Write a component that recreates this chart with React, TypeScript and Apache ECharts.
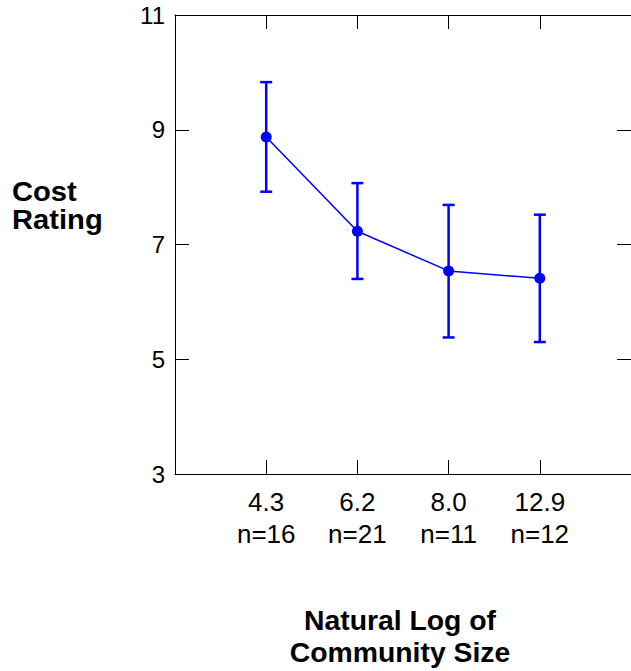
import React, { useEffect, useRef } from "react";
import * as echarts from "echarts";

const xPositions = [1, 2, 3, 4];
const xValues = ["4.3", "6.2", "8.0", "12.9"];
const sampleSizes = ["n=16", "n=21", "n=11", "n=12"];
const means = [8.875, 7.23, 6.54, 6.41];
const upper = [9.83, 8.07, 7.69, 7.52];
const lower = [7.92, 6.4, 5.38, 5.3];
const yTicks = [3, 5, 7, 9, 11];

const FONT = "'Liberation Sans', Arial, sans-serif";
const BLUE = "#0000ff";

export default function App() {
  const ref = useRef<HTMLDivElement>(null);
  useEffect(() => {
    if (!ref.current) return;
    const chart = echarts.init(ref.current, undefined, { renderer: "svg" });
    const lineData = xPositions.map((x, i) => [x, means[i]]);
    const errData = xPositions.map((x, i) => [x, lower[i], upper[i]]);
    const labelFor = (v: number) => {
      const i = xPositions.indexOf(Math.round(v));
      return i >= 0 ? `${xValues[i]}\n${sampleSizes[i]}` : "";
    };
    chart.setOption({
      animation: false,
      backgroundColor: "#fff",
      textStyle: { fontFamily: FONT },
      grid: { left: 175, top: 15, width: 460, height: 459, containLabel: false },
      xAxis: [
        {
          type: "value",
          min: 0,
          max: 5,
          interval: 1,
          position: "bottom",
          splitLine: { show: false },
          axisLine: { show: true, onZero: false, lineStyle: { color: "#000", width: 1 } },
          axisTick: { show: true, inside: true, length: 14, customValues: xPositions, lineStyle: { color: "#000" } },
          axisLabel: {
            customValues: xPositions,
            formatter: (v: number) => labelFor(v),
            color: "#000",
            fontSize: 26,
            fontFamily: FONT,
            lineHeight: 32,
            margin: 12,
          },
        },
        {
          type: "value",
          min: 0,
          max: 5,
          interval: 1,
          position: "top",
          splitLine: { show: false },
          axisLine: { show: true, onZero: false, lineStyle: { color: "#000", width: 1 } },
          axisTick: { show: true, inside: true, length: 14, customValues: xPositions, lineStyle: { color: "#000" } },
          axisLabel: { show: false },
        },
      ],
      yAxis: [
        {
          type: "value",
          min: 3,
          max: 11,
          interval: 2,
          position: "left",
          splitLine: { show: false },
          axisLine: { show: true, onZero: false, lineStyle: { color: "#000", width: 1 } },
          axisTick: { show: true, inside: true, length: 14, customValues: yTicks, lineStyle: { color: "#000" } },
          axisLabel: { color: "#000", fontSize: 24, fontFamily: FONT, margin: 10 },
        },
        {
          type: "value",
          min: 3,
          max: 11,
          interval: 2,
          position: "right",
          splitLine: { show: false },
          axisLine: { show: true, onZero: false, lineStyle: { color: "#000", width: 1 } },
          axisTick: { show: true, inside: true, length: 14, lineStyle: { color: "#000" } },
          axisLabel: { show: false },
        },
      ],
      series: [
        {
          type: "custom",
          xAxisIndex: 0,
          yAxisIndex: 0,
          data: errData,
          renderItem: (params: any, api: any) => {
            const x = api.value(0);
            const lo = api.coord([x, api.value(1)]);
            const hi = api.coord([x, api.value(2)]);
            const hw = 6;
            const style = { stroke: BLUE, lineWidth: 2.5 };
            return {
              type: "group",
              children: [
                { type: "line", shape: { x1: lo[0], y1: lo[1], x2: hi[0], y2: hi[1] }, style },
                { type: "line", shape: { x1: hi[0] - hw, y1: hi[1], x2: hi[0] + hw, y2: hi[1] }, style },
                { type: "line", shape: { x1: lo[0] - hw, y1: lo[1], x2: lo[0] + hw, y2: lo[1] }, style },
              ],
            };
          },
          z: 2,
        },
        {
          type: "line",
          xAxisIndex: 0,
          yAxisIndex: 0,
          data: lineData,
          symbol: "circle",
          symbolSize: 11,
          lineStyle: { color: BLUE, width: 1.5 },
          itemStyle: { color: BLUE },
          z: 3,
        },
      ],
      graphic: [
        {
          type: "text",
          x: 12,
          y: 178,
          scaleX: 1.08,
          style: {
            text: "Cost\nRating",
            font: `bold 27px ${FONT}`,
            fill: "#000",
            lineHeight: 28,
            textAlign: "left",
            textVerticalAlign: "top",
          },
        },
        {
          type: "text",
          x: 400,
          y: 605,
          scaleX: 1.05,
          style: {
            text: "Natural Log of\nCommunity Size",
            font: `bold 27px ${FONT}`,
            fill: "#000",
            lineHeight: 32,
            textAlign: "center",
            textVerticalAlign: "top",
          },
        },
      ],
    });
    return () => chart.dispose();
  }, []);
  return <div ref={ref} style={{ width: 631, height: 671, position: "absolute", left: 0, top: 0 }} />;
}
